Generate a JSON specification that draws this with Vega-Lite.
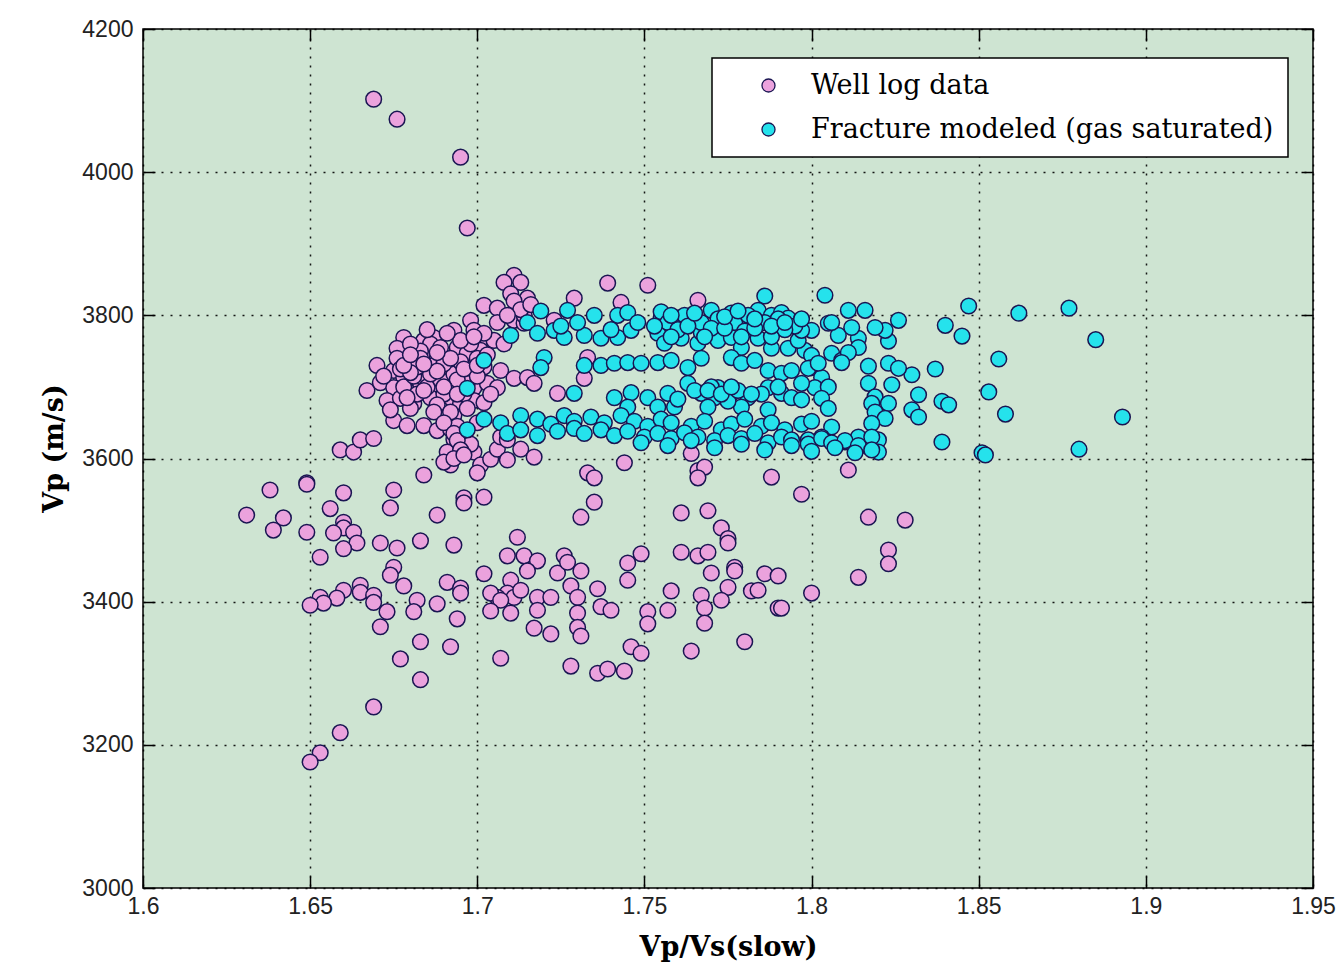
{
"$schema": "https://vega.github.io/schema/vega-lite/v6.json",
"width": 1170, "height": 859,
"autosize": {"type": "none"},
"padding": {"left": 143, "top": 29, "right": 27, "bottom": 82},
"background": "#ffffff",
"config": {
  "view": {"fill": "#CEE4D2", "stroke": "#000000", "strokeWidth": 1.5},
  "axis": {"labelFont": "Liberation Sans", "labelFontSize": 23, "labelColor": "#222222", "labelFlush": false, "labelOverlap": false, "labelBound": false,
           "domain": false, "tickColor": "#000000", "tickWidth": 1.5, "tickSize": -12,
           "gridColor": "#000000", "gridDash": [2, 7], "gridWidth": 1.5, "gridOpacity": 0.9,
           "titleFont": "DejaVu Serif", "titleFontWeight": "bold", "titleFontSize": 27, "titleColor": "#000000"},
  "legend": {"strokeWidth": 1.5}
},
"datasets": {
 "well": [
{"x":1.669,"y":4102},{"x":1.676,"y":4074},{"x":1.695,"y":4021},{"x":1.697,"y":3922},
{"x":1.711,"y":3856},{"x":1.708,"y":3846},{"x":1.713,"y":3846},{"x":1.729,"y":3824},{"x":1.702,"y":3814},{"x":1.706,"y":3810},{"x":1.712,"y":3814},{"x":1.715,"y":3824},{"x":1.711,"y":3793},{"x":1.714,"y":3789},{"x":1.698,"y":3793},{"x":1.723,"y":3793},{"x":1.693,"y":3779},{"x":1.699,"y":3779},{"x":1.703,"y":3768},{"x":1.705,"y":3765},{"x":1.678,"y":3769},{"x":1.684,"y":3765},{"x":1.687,"y":3769},{"x":1.676,"y":3754},{"x":1.681,"y":3744},{"x":1.686,"y":3751},{"x":1.690,"y":3741},{"x":1.694,"y":3755},{"x":1.697,"y":3747},{"x":1.701,"y":3751},{"x":1.670,"y":3730},{"x":1.675,"y":3723},{"x":1.678,"y":3713},{"x":1.682,"y":3723},{"x":1.686,"y":3727},{"x":1.690,"y":3720},{"x":1.694,"y":3726},{"x":1.698,"y":3723},{"x":1.707,"y":3723},{"x":1.711,"y":3712},{"x":1.715,"y":3713},{"x":1.717,"y":3705},{"x":1.667,"y":3695},{"x":1.671,"y":3706},{"x":1.675,"y":3699},{"x":1.679,"y":3695},{"x":1.683,"y":3705},{"x":1.687,"y":3699},{"x":1.691,"y":3705},{"x":1.699,"y":3699},{"x":1.703,"y":3705},{"x":1.706,"y":3699},{"x":1.673,"y":3681},{"x":1.677,"y":3684},{"x":1.681,"y":3677},{"x":1.686,"y":3685},{"x":1.692,"y":3685},{"x":1.695,"y":3677},{"x":1.699,"y":3681},{"x":1.702,"y":3678},{"x":1.724,"y":3691},{"x":1.675,"y":3653},{"x":1.679,"y":3646},{"x":1.684,"y":3646},{"x":1.688,"y":3639},{"x":1.693,"y":3660},{"x":1.692,"y":3641},{"x":1.693,"y":3627},{"x":1.695,"y":3619},{"x":1.691,"y":3609},{"x":1.692,"y":3591},{"x":1.690,"y":3595},{"x":1.699,"y":3609},{"x":1.701,"y":3591},{"x":1.704,"y":3599},{"x":1.706,"y":3613},{"x":1.709,"y":3598},{"x":1.713,"y":3613},{"x":1.717,"y":3602},{"x":1.700,"y":3580},{"x":1.684,"y":3577},{"x":1.659,"y":3612},{"x":1.663,"y":3609},{"x":1.665,"y":3626},{"x":1.669,"y":3628},{"x":1.707,"y":3630},{"x":1.709,"y":3626},{"x":1.733,"y":3580},{"x":1.702,"y":3546},{"x":1.696,"y":3545},{"x":1.638,"y":3556},{"x":1.649,"y":3566},{"x":1.660,"y":3552},{"x":1.675,"y":3556},{"x":1.739,"y":3845},{"x":1.751,"y":3842},{"x":1.743,"y":3818},{"x":1.766,"y":3821},{"x":1.755,"y":3779},{"x":1.733,"y":3741},{"x":1.732,"y":3712},{"x":1.744,"y":3594},{"x":1.764,"y":3607},{"x":1.766,"y":3583},{"x":1.768,"y":3588},{"x":1.766,"y":3573},{"x":1.788,"y":3574},{"x":1.811,"y":3584},{"x":1.649,"y":3564},{"x":1.631,"y":3521},{"x":1.642,"y":3517},{"x":1.639,"y":3500},{"x":1.649,"y":3497},{"x":1.656,"y":3530},{"x":1.660,"y":3511},{"x":1.660,"y":3503},{"x":1.657,"y":3496},{"x":1.663,"y":3497},{"x":1.664,"y":3482},{"x":1.660,"y":3474},{"x":1.653,"y":3462},{"x":1.671,"y":3482},{"x":1.676,"y":3475},{"x":1.674,"y":3531},{"x":1.688,"y":3521},{"x":1.696,"y":3538},{"x":1.683,"y":3485},{"x":1.693,"y":3479},{"x":1.712,"y":3490},{"x":1.709,"y":3464},{"x":1.714,"y":3464},{"x":1.718,"y":3457},{"x":1.715,"y":3443},{"x":1.724,"y":3440},{"x":1.702,"y":3439},{"x":1.675,"y":3448},{"x":1.674,"y":3437},{"x":1.678,"y":3422},{"x":1.691,"y":3427},{"x":1.695,"y":3419},{"x":1.695,"y":3412},{"x":1.710,"y":3430},{"x":1.709,"y":3412},{"x":1.706,"y":3406},{"x":1.711,"y":3406},{"x":1.713,"y":3416},{"x":1.704,"y":3412},{"x":1.707,"y":3402},{"x":1.704,"y":3387},{"x":1.710,"y":3384},{"x":1.718,"y":3406},{"x":1.722,"y":3406},{"x":1.718,"y":3388},{"x":1.717,"y":3363},{"x":1.722,"y":3355},{"x":1.660,"y":3416},{"x":1.658,"y":3405},{"x":1.653,"y":3406},{"x":1.654,"y":3398},{"x":1.650,"y":3395},{"x":1.665,"y":3423},{"x":1.665,"y":3413},{"x":1.669,"y":3409},{"x":1.669,"y":3399},{"x":1.673,"y":3386},{"x":1.671,"y":3365},{"x":1.682,"y":3402},{"x":1.681,"y":3386},{"x":1.688,"y":3397},{"x":1.694,"y":3376},{"x":1.683,"y":3344},{"x":1.692,"y":3337},{"x":1.677,"y":3320},{"x":1.683,"y":3291},{"x":1.707,"y":3321},{"x":1.669,"y":3253},{"x":1.659,"y":3217},{"x":1.653,"y":3189},{"x":1.650,"y":3176},{"x":1.735,"y":3573},{"x":1.797,"y":3550},{"x":1.817,"y":3518},{"x":1.823,"y":3472},{"x":1.823,"y":3453},{"x":1.814,"y":3434},{"x":1.800,"y":3412},{"x":1.735,"y":3539},{"x":1.731,"y":3518},{"x":1.761,"y":3524},{"x":1.769,"y":3527},{"x":1.773,"y":3503},{"x":1.775,"y":3488},{"x":1.775,"y":3482},{"x":1.726,"y":3464},{"x":1.727,"y":3455},{"x":1.731,"y":3443},{"x":1.728,"y":3422},{"x":1.730,"y":3406},{"x":1.730,"y":3384},{"x":1.730,"y":3364},{"x":1.731,"y":3352},{"x":1.736,"y":3418},{"x":1.737,"y":3393},{"x":1.740,"y":3388},{"x":1.749,"y":3467},{"x":1.745,"y":3454},{"x":1.745,"y":3430},{"x":1.761,"y":3469},{"x":1.766,"y":3464},{"x":1.769,"y":3469},{"x":1.770,"y":3440},{"x":1.777,"y":3448},{"x":1.777,"y":3443},{"x":1.786,"y":3439},{"x":1.790,"y":3436},{"x":1.775,"y":3420},{"x":1.782,"y":3415},{"x":1.784,"y":3416},{"x":1.773,"y":3402},{"x":1.758,"y":3415},{"x":1.757,"y":3388},{"x":1.767,"y":3409},{"x":1.768,"y":3391},{"x":1.768,"y":3370},{"x":1.751,"y":3386},{"x":1.751,"y":3369},{"x":1.790,"y":3391},{"x":1.791,"y":3391},{"x":1.780,"y":3344},{"x":1.764,"y":3331},{"x":1.746,"y":3337},{"x":1.749,"y":3328},{"x":1.728,"y":3310},{"x":1.736,"y":3300},{"x":1.739,"y":3306},{"x":1.744,"y":3303},{"x":1.828,"y":3514},
{"x":1.680,"y":3735},{"x":1.684,"y":3712},{"x":1.688,"y":3740},{"x":1.692,"y":3730},{"x":1.696,"y":3712},{"x":1.700,"y":3740},{"x":1.678,"y":3700},{"x":1.682,"y":3690},{"x":1.690,"y":3690},{"x":1.694,"y":3700},{"x":1.698,"y":3760},{"x":1.702,"y":3728},{"x":1.686,"y":3760},{"x":1.676,"y":3740},{"x":1.672,"y":3715},{"x":1.688,"y":3675},{"x":1.696,"y":3690},{"x":1.704,"y":3690},{"x":1.692,"y":3665},{"x":1.700,"y":3650},{"x":1.696,"y":3635},{"x":1.698,"y":3620},{"x":1.694,"y":3645},{"x":1.680,"y":3670},{"x":1.674,"y":3668},{"x":1.710,"y":3830},{"x":1.714,"y":3800},{"x":1.706,"y":3790},{"x":1.702,"y":3775},{"x":1.708,"y":3760},
{"x":1.683,"y":3750},{"x":1.689,"y":3755},{"x":1.695,"y":3765},{"x":1.691,"y":3775},{"x":1.685,"y":3780},{"x":1.680,"y":3760},{"x":1.677,"y":3725},{"x":1.681,"y":3715},{"x":1.685,"y":3700},{"x":1.689,"y":3710},{"x":1.693,"y":3718},{"x":1.697,"y":3705},{"x":1.700,"y":3715},{"x":1.703,"y":3745},{"x":1.699,"y":3770},{"x":1.695,"y":3735},{"x":1.687,"y":3730},{"x":1.683,"y":3740},{"x":1.679,"y":3685},{"x":1.687,"y":3665},{"x":1.690,"y":3650},{"x":1.697,"y":3670},
{"x":1.682,"y":3728},{"x":1.686,"y":3718},{"x":1.690,"y":3732},{"x":1.694,"y":3710},{"x":1.688,"y":3722},{"x":1.684,"y":3732},{"x":1.680,"y":3720},{"x":1.692,"y":3740},{"x":1.696,"y":3725},{"x":1.700,"y":3730},{"x":1.678,"y":3730},{"x":1.684,"y":3695},{"x":1.690,"y":3700},{"x":1.694,"y":3690},{"x":1.693,"y":3635},{"x":1.694,"y":3625},{"x":1.695,"y":3612},{"x":1.693,"y":3600},{"x":1.696,"y":3605},{"x":1.711,"y":3820},{"x":1.713,"y":3808},{"x":1.716,"y":3815},{"x":1.709,"y":3800},{"x":1.680,"y":3745},{"x":1.688,"y":3748}
 ],
 "frac": [
{"x":1.804,"y":3828},{"x":1.786,"y":3827},{"x":1.847,"y":3813},{"x":1.862,"y":3803},{"x":1.877,"y":3810},{"x":1.885,"y":3766},{"x":1.856,"y":3739},{"x":1.853,"y":3693},{"x":1.858,"y":3662},{"x":1.893,"y":3658},{"x":1.880,"y":3613},{"x":1.851,"y":3608},{"x":1.852,"y":3605},{"x":1.839,"y":3623},{"x":1.840,"y":3786},{"x":1.845,"y":3771},{"x":1.837,"y":3725},{"x":1.832,"y":3689},{"x":1.839,"y":3680},{"x":1.841,"y":3675},{"x":1.830,"y":3668},{"x":1.832,"y":3658},{"x":1.826,"y":3793},{"x":1.823,"y":3764},{"x":1.830,"y":3717},{"x":1.823,"y":3733},{"x":1.826,"y":3726},{"x":1.817,"y":3729},{"x":1.817,"y":3705},{"x":1.824,"y":3703},{"x":1.819,"y":3686},{"x":1.818,"y":3677},{"x":1.823,"y":3677},{"x":1.819,"y":3665},{"x":1.822,"y":3656},{"x":1.818,"y":3649},{"x":1.820,"y":3626},{"x":1.820,"y":3609},{"x":1.817,"y":3616},{"x":1.814,"y":3630},{"x":1.810,"y":3623},{"x":1.806,"y":3644},{"x":1.803,"y":3630},{"x":1.799,"y":3626},{"x":1.811,"y":3807},{"x":1.816,"y":3807},{"x":1.805,"y":3789},{"x":1.800,"y":3779},{"x":1.808,"y":3772},{"x":1.814,"y":3768},{"x":1.814,"y":3755},{"x":1.798,"y":3751},{"x":1.800,"y":3744},{"x":1.806,"y":3747},{"x":1.809,"y":3737},{"x":1.800,"y":3727},{"x":1.803,"y":3713},{"x":1.801,"y":3699},{"x":1.805,"y":3700},{"x":1.803,"y":3684},{"x":1.805,"y":3670},{"x":1.822,"y":3779},{"x":1.819,"y":3783},{"x":1.811,"y":3748},
{"x":1.719,"y":3806},{"x":1.727,"y":3807},{"x":1.742,"y":3800},{"x":1.745,"y":3804},{"x":1.755,"y":3797},{"x":1.760,"y":3796},{"x":1.764,"y":3797},{"x":1.770,"y":3807},{"x":1.776,"y":3803},{"x":1.781,"y":3793},{"x":1.784,"y":3807},{"x":1.788,"y":3800},{"x":1.791,"y":3804},{"x":1.793,"y":3796},{"x":1.806,"y":3790},{"x":1.812,"y":3783},
{"x":1.710,"y":3772},{"x":1.723,"y":3779},{"x":1.726,"y":3769},{"x":1.732,"y":3772},{"x":1.737,"y":3768},{"x":1.742,"y":3769},{"x":1.746,"y":3779},{"x":1.754,"y":3775},{"x":1.756,"y":3761},{"x":1.761,"y":3768},{"x":1.766,"y":3761},{"x":1.767,"y":3776},{"x":1.772,"y":3765},{"x":1.776,"y":3769},{"x":1.779,"y":3755},{"x":1.784,"y":3768},{"x":1.788,"y":3754},{"x":1.793,"y":3754},{"x":1.796,"y":3765},{"x":1.797,"y":3779},
{"x":1.720,"y":3741},{"x":1.719,"y":3727},{"x":1.732,"y":3730},{"x":1.737,"y":3730},{"x":1.741,"y":3733},{"x":1.745,"y":3734},{"x":1.749,"y":3733},{"x":1.754,"y":3734},{"x":1.758,"y":3737},{"x":1.763,"y":3727},{"x":1.767,"y":3740},{"x":1.776,"y":3741},{"x":1.779,"y":3733},{"x":1.783,"y":3737},{"x":1.787,"y":3723},{"x":1.791,"y":3719},{"x":1.794,"y":3723},{"x":1.799,"y":3726},{"x":1.802,"y":3733},{"x":1.809,"y":3734},
{"x":1.702,"y":3737},{"x":1.697,"y":3698},{"x":1.729,"y":3691},{"x":1.741,"y":3685},{"x":1.746,"y":3692},{"x":1.751,"y":3685},{"x":1.757,"y":3691},{"x":1.763,"y":3705},{"x":1.767,"y":3691},{"x":1.772,"y":3699},{"x":1.771,"y":3685},{"x":1.776,"y":3691},{"x":1.781,"y":3685},{"x":1.787,"y":3699},{"x":1.791,"y":3691},{"x":1.794,"y":3685},{"x":1.797,"y":3705},
{"x":1.745,"y":3672},{"x":1.754,"y":3672},{"x":1.759,"y":3672},{"x":1.769,"y":3672},{"x":1.779,"y":3672},{"x":1.787,"y":3668},{"x":1.797,"y":3682},
{"x":1.702,"y":3655},{"x":1.707,"y":3650},{"x":1.713,"y":3660},{"x":1.718,"y":3655},{"x":1.722,"y":3648},{"x":1.726,"y":3660},{"x":1.729,"y":3652},{"x":1.734,"y":3658},{"x":1.738,"y":3650},{"x":1.743,"y":3660},{"x":1.747,"y":3652},{"x":1.751,"y":3645},{"x":1.755,"y":3655},{"x":1.758,"y":3650},{"x":1.764,"y":3645},{"x":1.768,"y":3652},{"x":1.773,"y":3640},{"x":1.776,"y":3648},{"x":1.780,"y":3655},{"x":1.785,"y":3645},{"x":1.788,"y":3650},{"x":1.792,"y":3640},{"x":1.797,"y":3648},{"x":1.800,"y":3652},
{"x":1.697,"y":3640},{"x":1.709,"y":3635},{"x":1.713,"y":3640},{"x":1.718,"y":3632},{"x":1.724,"y":3638},{"x":1.729,"y":3642},{"x":1.732,"y":3635},{"x":1.737,"y":3640},{"x":1.741,"y":3632},{"x":1.745,"y":3638},{"x":1.750,"y":3630},{"x":1.754,"y":3635},{"x":1.758,"y":3628},{"x":1.762,"y":3636},{"x":1.766,"y":3630},{"x":1.771,"y":3625},{"x":1.775,"y":3632},{"x":1.779,"y":3628},{"x":1.783,"y":3635},{"x":1.787,"y":3622},{"x":1.791,"y":3630},{"x":1.794,"y":3626},{"x":1.799,"y":3620},{"x":1.803,"y":3628},{"x":1.806,"y":3622},{"x":1.810,"y":3625},{"x":1.814,"y":3618},{"x":1.818,"y":3630},
{"x":1.749,"y":3622},{"x":1.757,"y":3618},{"x":1.764,"y":3625},{"x":1.771,"y":3615},{"x":1.779,"y":3620},{"x":1.786,"y":3612},{"x":1.794,"y":3618},{"x":1.800,"y":3610},{"x":1.807,"y":3615},{"x":1.813,"y":3608},{"x":1.818,"y":3612},
{"x":1.755,"y":3805},{"x":1.757,"y":3790},{"x":1.762,"y":3800},{"x":1.767,"y":3790},{"x":1.772,"y":3795},{"x":1.777,"y":3790},{"x":1.781,"y":3800},{"x":1.786,"y":3790},{"x":1.790,"y":3795},{"x":1.795,"y":3785},{"x":1.760,"y":3780},{"x":1.770,"y":3782},{"x":1.780,"y":3778},{"x":1.725,"y":3785},{"x":1.730,"y":3790},{"x":1.715,"y":3790},{"x":1.718,"y":3775},{"x":1.765,"y":3695},{"x":1.770,"y":3700},{"x":1.775,"y":3680},{"x":1.785,"y":3690},{"x":1.790,"y":3700},{"x":1.760,"y":3683},
{"x":1.753,"y":3785},{"x":1.758,"y":3770},{"x":1.763,"y":3785},{"x":1.768,"y":3770},{"x":1.774,"y":3782},{"x":1.779,"y":3770},{"x":1.783,"y":3782},{"x":1.788,"y":3770},{"x":1.792,"y":3780},{"x":1.797,"y":3795},{"x":1.735,"y":3800},{"x":1.748,"y":3790},{"x":1.740,"y":3780},
{"x":1.758,"y":3800},{"x":1.765,"y":3803},{"x":1.774,"y":3798},{"x":1.778,"y":3806},{"x":1.783,"y":3795},{"x":1.788,"y":3785},{"x":1.792,"y":3790},{"x":1.769,"y":3695},{"x":1.773,"y":3690},{"x":1.778,"y":3695},{"x":1.782,"y":3690},{"x":1.776,"y":3700}
 ]
},
"layer": [
 {
  "data": {"name": "well"},
  "mark": {"type": "point", "shape": "circle", "filled": true, "size": 245, "stroke": "#1a1552", "strokeWidth": 1.5, "opacity": 1},
  "encoding": {
   "x": {"field": "x", "type": "quantitative", "scale": {"domain": [1.6, 1.95], "nice": false, "zero": false},
         "axis": {"orient": "bottom", "values": [1.6, 1.65, 1.7, 1.75, 1.8, 1.85, 1.9, 1.95], "format": "~g", "labelPadding": 19,
                  "title": "Vp/Vs(slow)", "titleBaseline": "alphabetic", "titleY": 67, "titleAnchor": "middle"}},
   "y": {"field": "y", "type": "quantitative", "scale": {"domain": [3000, 4200], "nice": false, "zero": false},
         "axis": {"orient": "left", "values": [3000, 3200, 3400, 3600, 3800, 4000, 4200], "format": "d", "labelPadding": 22,
                  "title": "Vp (m/s)", "titleAngle": -90, "titleBaseline": "alphabetic", "titleAlign": "center", "titleX": -81, "titleY": 419}},
   "color": {"datum": "Well log data", "type": "nominal",
             "scale": {"domain": ["Well log data", "Fracture modeled (gas saturated)"], "range": ["#EBA2DD", "#25E2EC"]},
             "legend": {"orient": "none", "legendX": 569, "legendY": 29, "title": null, "fillColor": "#ffffff", "strokeColor": "#000000",
                        "padding": 14, "rowPadding": 16, "labelFont": "DejaVu Serif", "labelFontSize": 27, "labelColor": "#000000",
                        "labelOffset": 29, "symbolOffset": 29, "symbolSize": 170, "symbolType": "circle",
                        "symbolStrokeColor": "#1a1552", "symbolStrokeWidth": 1.3, "labelLimit": 800}}
  }
 },
 {
  "data": {"name": "frac"},
  "mark": {"type": "point", "shape": "circle", "filled": true, "size": 245, "stroke": "#1a1552", "strokeWidth": 1.5, "opacity": 1},
  "encoding": {
   "x": {"field": "x", "type": "quantitative",
         "axis": {"orient": "top", "values": [1.6, 1.65, 1.7, 1.75, 1.8, 1.85, 1.9, 1.95], "labels": false, "grid": false, "title": null}},
   "y": {"field": "y", "type": "quantitative",
         "axis": {"orient": "right", "values": [3000, 3200, 3400, 3600, 3800, 4000, 4200], "labels": false, "grid": false, "title": null}},
   "color": {"datum": "Fracture modeled (gas saturated)", "type": "nominal"}
  }
 }
],
"resolve": {"axis": {"x": "independent", "y": "independent"}}
}
